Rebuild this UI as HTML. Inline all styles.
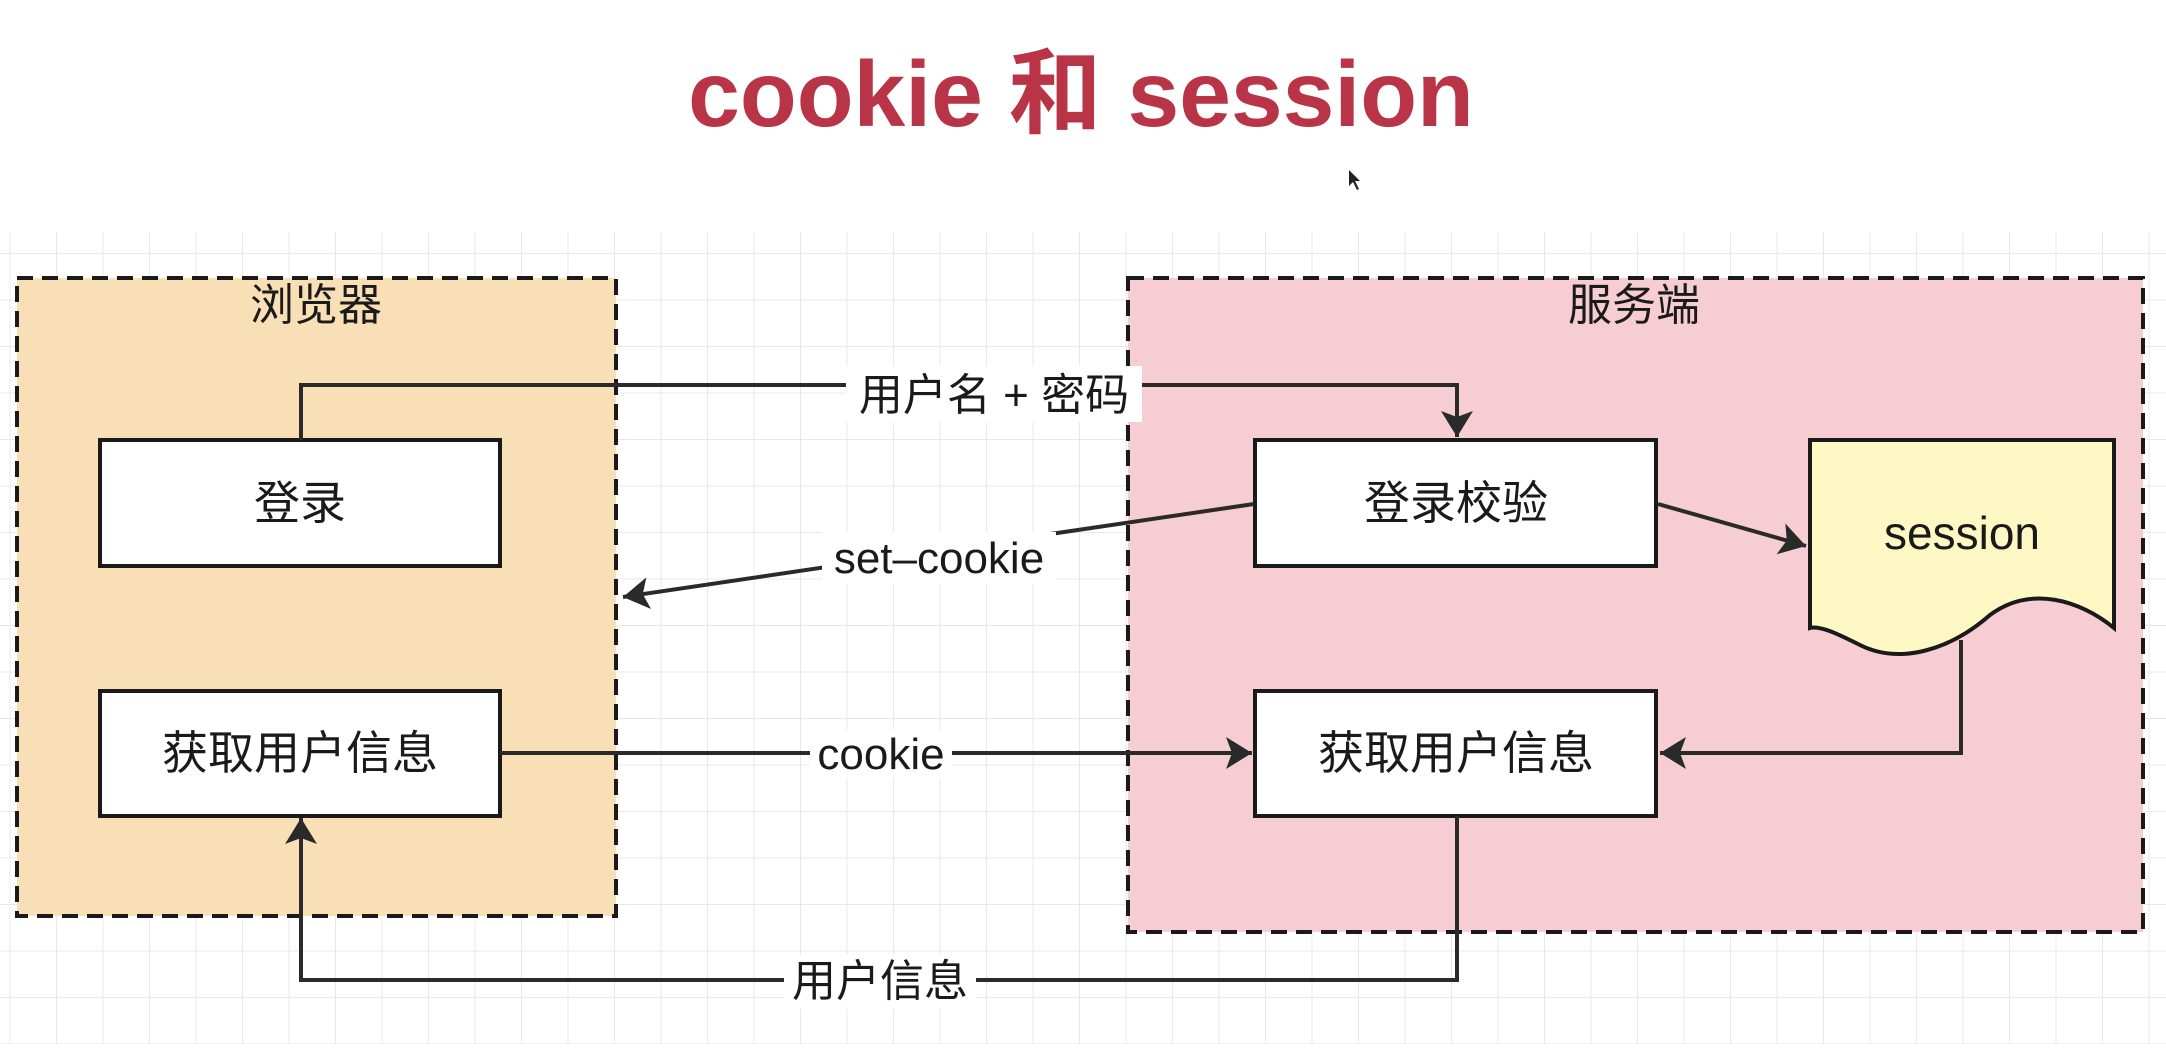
<!DOCTYPE html>
<html><head><meta charset="utf-8"><style>
html,body{margin:0;padding:0;background:#fff;}
svg{display:block;}
text{font-family:"Liberation Sans","Noto Sans CJK SC",sans-serif;fill:#1a1a1a;}
</style></head><body>
<svg width="2166" height="1054" viewBox="0 0 2166 1054" xmlns="http://www.w3.org/2000/svg">
<defs>
<pattern id="g" x="9.5" y="253" width="46.5" height="46.5" patternUnits="userSpaceOnUse">
<path d="M0 0H46.5M0 0V46.5" stroke="#e8e8e8" stroke-width="2" fill="none"/>
</pattern>
<marker id="a" viewBox="0 0 10 10" refX="9" refY="5" markerWidth="10" markerHeight="10" markerUnits="userSpaceOnUse" orient="auto" overflow="visible">
<path d="M-26 -11 L0 5 L-26 21 L-20 5 Z" transform="translate(9,0)" fill="#2a2a2a"/>
</marker>
</defs>
<rect x="0" y="232" width="2166" height="812" fill="url(#g)"/>
<text x="1081" y="126" text-anchor="middle" font-size="93" font-weight="bold" style="fill:#b93446">cookie 和 session</text>

<rect x="17" y="278" width="599" height="638" fill="#f9dfb6" stroke="#1a1a1a" stroke-width="4" stroke-dasharray="16 9"/>
<rect x="1128" y="278" width="1015" height="654" fill="#f6cdd3" stroke="#1a1a1a" stroke-width="4" stroke-dasharray="16 9"/>
<text x="316" y="320" text-anchor="middle" font-size="44">浏览器</text>
<text x="1634" y="320" text-anchor="middle" font-size="44">服务端</text>

<g fill="#fff" stroke="#1a1a1a" stroke-width="4">
<rect x="100" y="440" width="400" height="126"/>
<rect x="100" y="691" width="400" height="125"/>
<rect x="1255" y="440" width="401" height="126"/>
<rect x="1255" y="691" width="401" height="125"/>
<path d="M1810 440 H2114 V628 C2080 600 2030 585 1990 615 C1950 650 1900 665 1860 645 C1840 635 1820 625 1810 628 Z" fill="#fdf8c4"/>
</g>
<g font-size="46" text-anchor="middle">
<text x="300" y="519">登录</text>
<text x="300" y="769">获取用户信息</text>
<text x="1456" y="519">登录校验</text>
<text x="1456" y="769">获取用户信息</text>
<text x="1962" y="549">session</text>
</g>

<g fill="none" stroke="#2a2a2a" stroke-width="4">
<path d="M301 440 V385 H1457 V437" marker-end="url(#a)"/>
<path d="M1254 504 L623 597" marker-end="url(#a)"/>
<path d="M1658 504 L1806 546" marker-end="url(#a)"/>
<path d="M500 753 H1252" marker-end="url(#a)"/>
<path d="M1961 640 V753 H1660" marker-end="url(#a)"/>
<path d="M1457 816 V980 H301 V818" marker-end="url(#a)"/>
</g>
<g font-size="44" text-anchor="middle">
<rect x="846" y="366" width="296" height="56" fill="#fff"/>
<text x="994" y="410">用户名 + 密码</text>
<rect x="822" y="532" width="234" height="52" fill="#fff"/>
<text x="939" y="573">set–cookie</text>
<rect x="810" y="730" width="142" height="48" fill="#fff"/>
<text x="881" y="769">cookie</text>
<rect x="784" y="955" width="192" height="54" fill="#fff"/>
<text x="880" y="996">用户信息</text>
</g>
<path d="M1349 170 L1349 186 L1353 182 L1357 190 L1359 189 L1355 181 L1360 181 Z" fill="#222"/>
</svg>
</body></html>
